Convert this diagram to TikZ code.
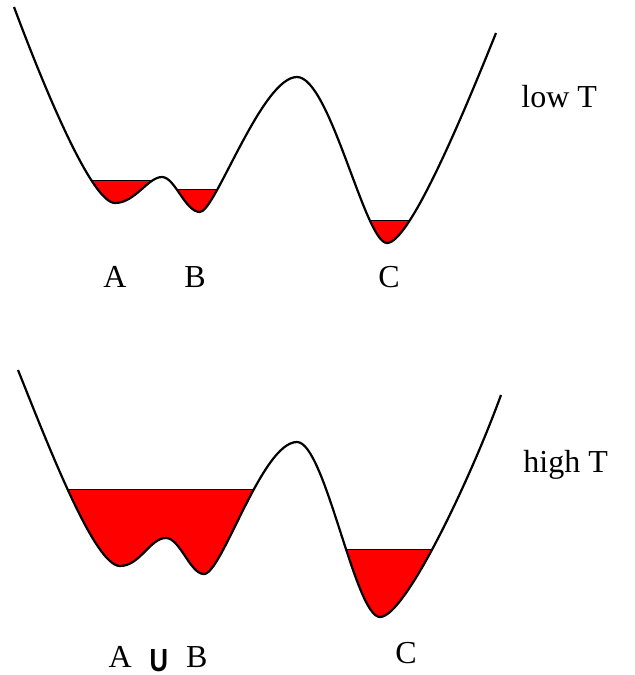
\documentclass[tikz,border=0pt]{standalone}
\usepackage{graphicx}
\usepackage{fontspec}
\setmainfont{Liberation Serif}
\newfontfamily\unionfont{Liberation Sans}

\newcommand{\lowcurve}{(14,-7) .. controls (45,-90) and (92,-203) .. (115,-203)
    .. controls (135,-203) and (148,-177) .. (162,-177)
    .. controls (175,-177) and (185,-212) .. (200,-212)
    .. controls (215,-212) and (262,-77) .. (297,-77)
    .. controls (330,-77) and (365,-243) .. (387,-243)
    .. controls (410,-243) and (465,-110) .. (496,-33)}
\newcommand{\highcurve}{(18,-370) .. controls (50,-450) and (95,-566) .. (120,-566)
    .. controls (140,-566) and (150,-538) .. (166,-538)
    .. controls (180,-538) and (190,-574) .. (204,-574)
    .. controls (222,-574) and (262,-442) .. (297,-442)
    .. controls (325,-442) and (355,-617) .. (380,-617)
    .. controls (405,-617) and (470,-480) .. (501,-395)}
\newcommand{\unionU}{\raisebox{-2pt}{\scalebox{0.8}[1]{\unionfont\bfseries U}}}

\begin{document}
\begin{tikzpicture}[
    x=0.5pt, y=0.5pt,
    curve/.style={draw=black, line width=1.1pt},
    well/.style={fill=red},
    level/.style={draw=black, line width=0.5pt},
    temp/.style={anchor=base west, inner sep=0pt, font=\fontsize{16pt}{19pt}\selectfont},
    state/.style={anchor=base, inner sep=0pt, font=\fontsize{16pt}{19pt}\selectfont},
]
    \useasboundingbox (0,0) rectangle (635,-675);

    % low T
    \begin{scope}
        \clip \lowcurve -- (496,10) -- (14,10) -- cycle;
        \fill[well] (80,-180) rectangle (163,-260);
        \draw[level] (80,-180) -- (163,-180);
        \fill[well] (163,-189) rectangle (240,-260);
        \draw[level] (163,-189) -- (240,-189);
        \fill[well] (330,-220.7) rectangle (450,-260);
        \draw[level] (330,-220.7) -- (450,-220.7);
    \end{scope}
    \draw[curve] \lowcurve;

    \node(lowT)[temp] at (521,-107) {low T};
    \node(lowA)[state] at (115,-287) {A};
    \node(lowB)[state] at (195,-287) {B};
    \node(lowC)[state] at (389,-287) {C};

    % high T
    \begin{scope}
        \clip \highcurve -- (501,-350) -- (18,-350) -- cycle;
        \fill[well] (20,-489) rectangle (290,-640);
        \draw[level] (20,-489) -- (290,-489);
        \fill[well] (320,-549.3) rectangle (460,-640);
        \draw[level] (320,-549.3) -- (460,-549.3);
    \end{scope}
    \draw[curve] \highcurve;

    \node(highT)[temp] at (523,-472) {high T};
    \node(highAB)[state] at (158,-667) {A\hspace{9pt}\unionU\hspace{9pt}B};
    \node(highC)[state] at (406,-663) {C};
\end{tikzpicture}
\end{document}
